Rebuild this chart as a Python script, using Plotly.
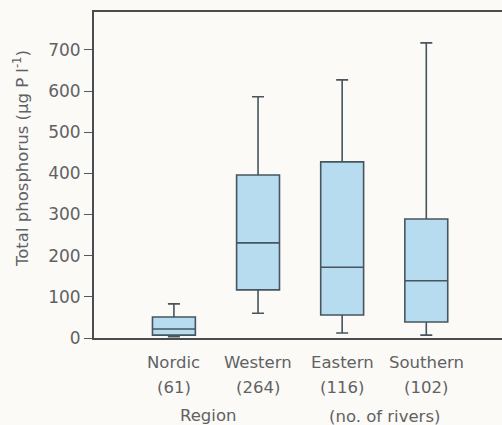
import plotly.graph_objects as go

# Total phosphorus concentration summaries by European region
regions = ["Nordic", "Western", "Eastern", "Southern"]
n_rivers = [61, 264, 116, 102]
lower_whisker = [3, 60, 12, 7]
q1 = [7, 117, 56, 39]
median = [22, 231, 172, 139]
q3 = [51, 396, 428, 289]
upper_whisker = [83, 586, 627, 717]
y_ticks = [0, 100, 200, 300, 400, 500, 600, 700]

positions = list(range(len(regions)))

text_col = "#5f6264"
line_col = "#46555f"
font_family = "DejaVu Sans"
label_size = 16.5

fig = go.Figure()
fig.add_trace(go.Box(
    x=positions,
    lowerfence=lower_whisker,
    q1=q1,
    median=median,
    q3=q3,
    upperfence=upper_whisker,
    width=0.51,
    whiskerwidth=0.28,
    fillcolor="#b7dcef",
    line=dict(color=line_col, width=1.6),
    boxpoints=False,
    showlegend=False,
    hoverinfo="skip",
))

# Category names and river counts below the axis
for i, (name, n) in enumerate(zip(regions, n_rivers)):
    fig.add_annotation(x=i, y=-0.074, xref="x", yref="paper", text=name,
                       showarrow=False, yanchor="middle",
                       font=dict(size=label_size, color=text_col, family=font_family))
    fig.add_annotation(x=i, y=-0.153, xref="x", yref="paper", text=f"({n})",
                       showarrow=False, yanchor="middle",
                       font=dict(size=label_size, color=text_col, family=font_family))

fig.add_annotation(x=0.41, y=-0.239, xref="x", yref="paper", text="Region",
                   showarrow=False, yanchor="middle",
                   font=dict(size=label_size, color=text_col, family=font_family))
fig.add_annotation(x=2.5, y=-0.242, xref="x", yref="paper", text="(no. of rivers)",
                   showarrow=False, yanchor="middle",
                   font=dict(size=label_size, color=text_col, family=font_family))

# Vertical axis title, sitting slightly above the axis midpoint
fig.add_annotation(x=-0.179, y=0.552, xref="paper", yref="paper",
                   text="Total phosphorus (\u00b5g P l<sup>-1</sup>)",
                   textangle=-90, showarrow=False,
                   xanchor="center", yanchor="middle",
                   font=dict(size=16.5, color=text_col, family=font_family))

fig.update_layout(
    width=502,
    height=425,
    margin=dict(l=94, r=0, t=12, b=87),
    paper_bgcolor="#fbfaf6",
    plot_bgcolor="#fbfaf6",
    xaxis=dict(
        range=[-0.95, 3.9],
        showticklabels=False,
        ticks="",
        showgrid=False,
        zeroline=False,
        showline=True,
        linecolor="#4a4d50",
        linewidth=2,
        mirror=True,
    ),
    yaxis=dict(
        range=[0, 792],
        tickvals=y_ticks,
        ticks="outside",
        ticklen=8,
        tickwidth=1.4,
        tickcolor="#55585a",
        showgrid=False,
        zeroline=False,
        showline=True,
        linecolor="#4a4d50",
        linewidth=2,
        tickfont=dict(size=17, color=text_col, family=font_family),
    ),
)

fig.write_html("out.html")
